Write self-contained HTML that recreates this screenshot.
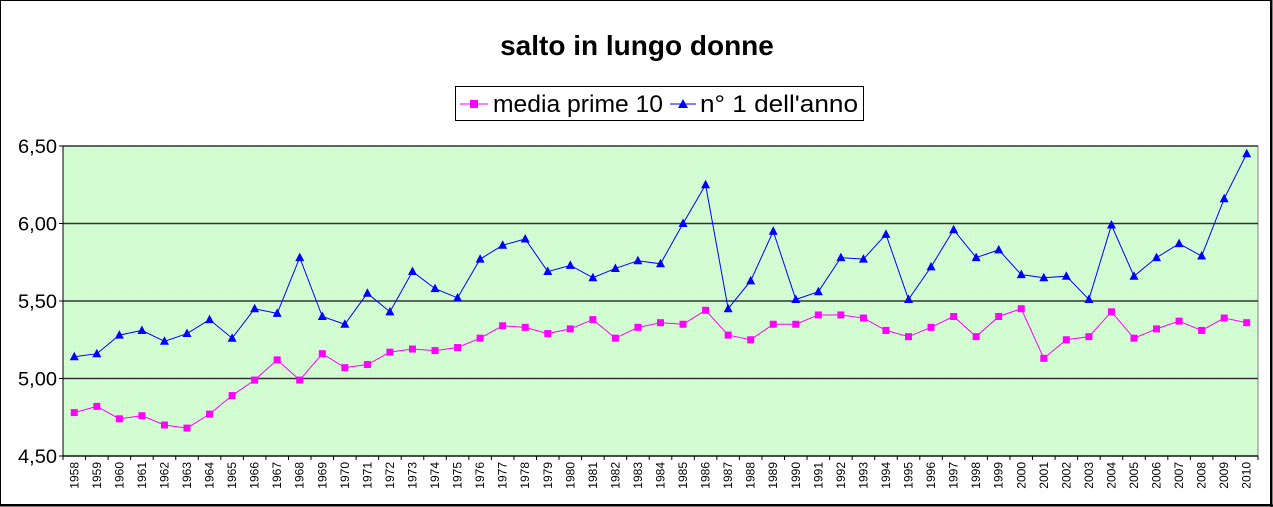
<!DOCTYPE html>
<html><head><meta charset="utf-8"><style>
body{margin:0;background:#fff}
svg{display:block;font-family:"Liberation Sans",Arial,sans-serif}
</style></head><body>
<svg width="1273" height="507" viewBox="0 0 1273 507">
<defs><pattern id="dots" width="4" height="4" patternUnits="userSpaceOnUse"><rect width="4" height="4" fill="#ccffcc"/><rect x="0" y="0" width="1" height="1" fill="#e8ffe8"/></pattern></defs>
<rect x="0.5" y="0.5" width="1270" height="504" fill="#fff" stroke="#000" stroke-width="1"/>
<line x1="1271.5" y1="0" x2="1271.5" y2="507" stroke="#000" stroke-width="2"/>
<line x1="0" y1="505.5" x2="1273" y2="505.5" stroke="#000" stroke-width="2"/>
<text x="637" y="55" text-anchor="middle" font-size="28" font-weight="bold">salto in lungo donne</text>
<g>
<rect x="455.5" y="86.5" width="408" height="34" fill="#fff" stroke="#000"/>
<g>
<line x1="460" y1="104" x2="488" y2="104" stroke="#ff00ff" stroke-width="1"/>
<rect x="470" y="100" width="8" height="8" fill="#ff00ff"/>
<text x="493" y="112" font-size="24" textLength="170" lengthAdjust="spacingAndGlyphs">media prime 10</text></g>
<g>
<line x1="670" y1="104" x2="696" y2="104" stroke="#0000ff" stroke-width="1"/>
<polygon points="683,99 688,108 678,108" fill="#0000ff"/>
<text x="700" y="112" font-size="24" textLength="158" lengthAdjust="spacingAndGlyphs">n° 1 dell'anno</text></g>
</g>
<g id="plot"></g>
</svg>
<script>
const years=[];for(let y=1958;y<=2010;y++)years.push(String(y));
const media=[4.78,4.82,4.74,4.76,4.70,4.68,4.77,4.89,4.99,5.12,4.99,5.16,5.07,5.09,5.17,5.19,5.18,5.20,5.26,5.34,5.33,5.29,5.32,5.38,5.26,5.33,5.36,5.35,5.44,5.28,5.25,5.35,5.35,5.41,5.41,5.39,5.31,5.27,5.33,5.40,5.27,5.40,5.45,5.13,5.25,5.27,5.43,5.26,5.32,5.37,5.31,5.39,5.36];
const first=[5.14,5.16,5.28,5.31,5.24,5.29,5.38,5.26,5.45,5.42,5.78,5.40,5.35,5.55,5.43,5.69,5.58,5.52,5.77,5.86,5.90,5.69,5.73,5.65,5.71,5.76,5.74,6.00,6.25,5.45,5.63,5.95,5.51,5.56,5.78,5.77,5.93,5.51,5.72,5.96,5.78,5.83,5.67,5.65,5.66,5.51,5.99,5.66,5.78,5.87,5.79,6.16,6.45];
const yTicks=[4.5,5.0,5.5,6.0,6.5];
const yLabels=["4,50","5,00","5,50","6,00","6,50"];
const L=63,R=1258,T=146,B=456,ymin=4.5,ymax=6.5;
const NS="http://www.w3.org/2000/svg";
const g=document.getElementById('plot');
const cw=(R-L)/years.length;
const X=i=>L+cw*(i+0.5);
const Y=v=>B-(v-ymin)/(ymax-ymin)*(B-T);
function mk(t,a,p){const e=document.createElementNS(NS,t);for(const k in a)e.setAttribute(k,a[k]);(p||g).appendChild(e);return e;}
const bg=mk('rect',{x:L,y:T,width:R-L,height:B-T,fill:'url(#dots)',stroke:'#808080'});


yTicks.forEach((v,i)=>{
 const ln=mk('line',{x1:L,x2:R,y1:Y(v),y2:Y(v),stroke:'#333','stroke-width':1.5});
 
 
 mk('line',{x1:L-4,x2:L,y1:Y(v),y2:Y(v),stroke:'#000'});
 const t=mk('text',{x:L-6,y:Y(v)+7,'text-anchor':'end','font-size':19,textLength:39,lengthAdjust:'spacingAndGlyphs'});t.textContent=yLabels[i];
 
 
});
mk('line',{x1:L,x2:L,y1:T,y2:B,stroke:'#000'});
mk('line',{x1:L,x2:R,y1:B,y2:B,stroke:'#000'});
years.forEach((yr,i)=>{
 mk('line',{x1:L+cw*i,x2:L+cw*i,y1:B,y2:B+4,stroke:'#000'});
 const t=mk('text',{transform:`translate(${X(i)+4},${B+6}) rotate(-90)`,'text-anchor':'end','font-size':12});t.textContent=yr;
 
 
});
mk('line',{x1:R,x2:R,y1:B,y2:B+4,stroke:'#000'});
function series(vals,color,shape,name){
 const pl=mk('polyline',{points:vals.map((v,i)=>X(i)+','+Y(v)).join(' '),fill:'none',stroke:color,'stroke-width':1});
 
 
 vals.forEach((v,i)=>{
  const x=X(i),y=Y(v);let m;
  if(shape==='sq')m=mk('rect',{x:x-3.5,y:y-3.5,width:7,height:7,fill:color});
  else m=mk('polygon',{points:`${x},${y-5} ${x+4.5},${y+3.5} ${x-4.5},${y+3.5}`,fill:color});
  
  
 });
}
series(first,'#0000ff','tri','n1');
series(media,'#ff00ff','sq','media');
</script>
</body></html>
